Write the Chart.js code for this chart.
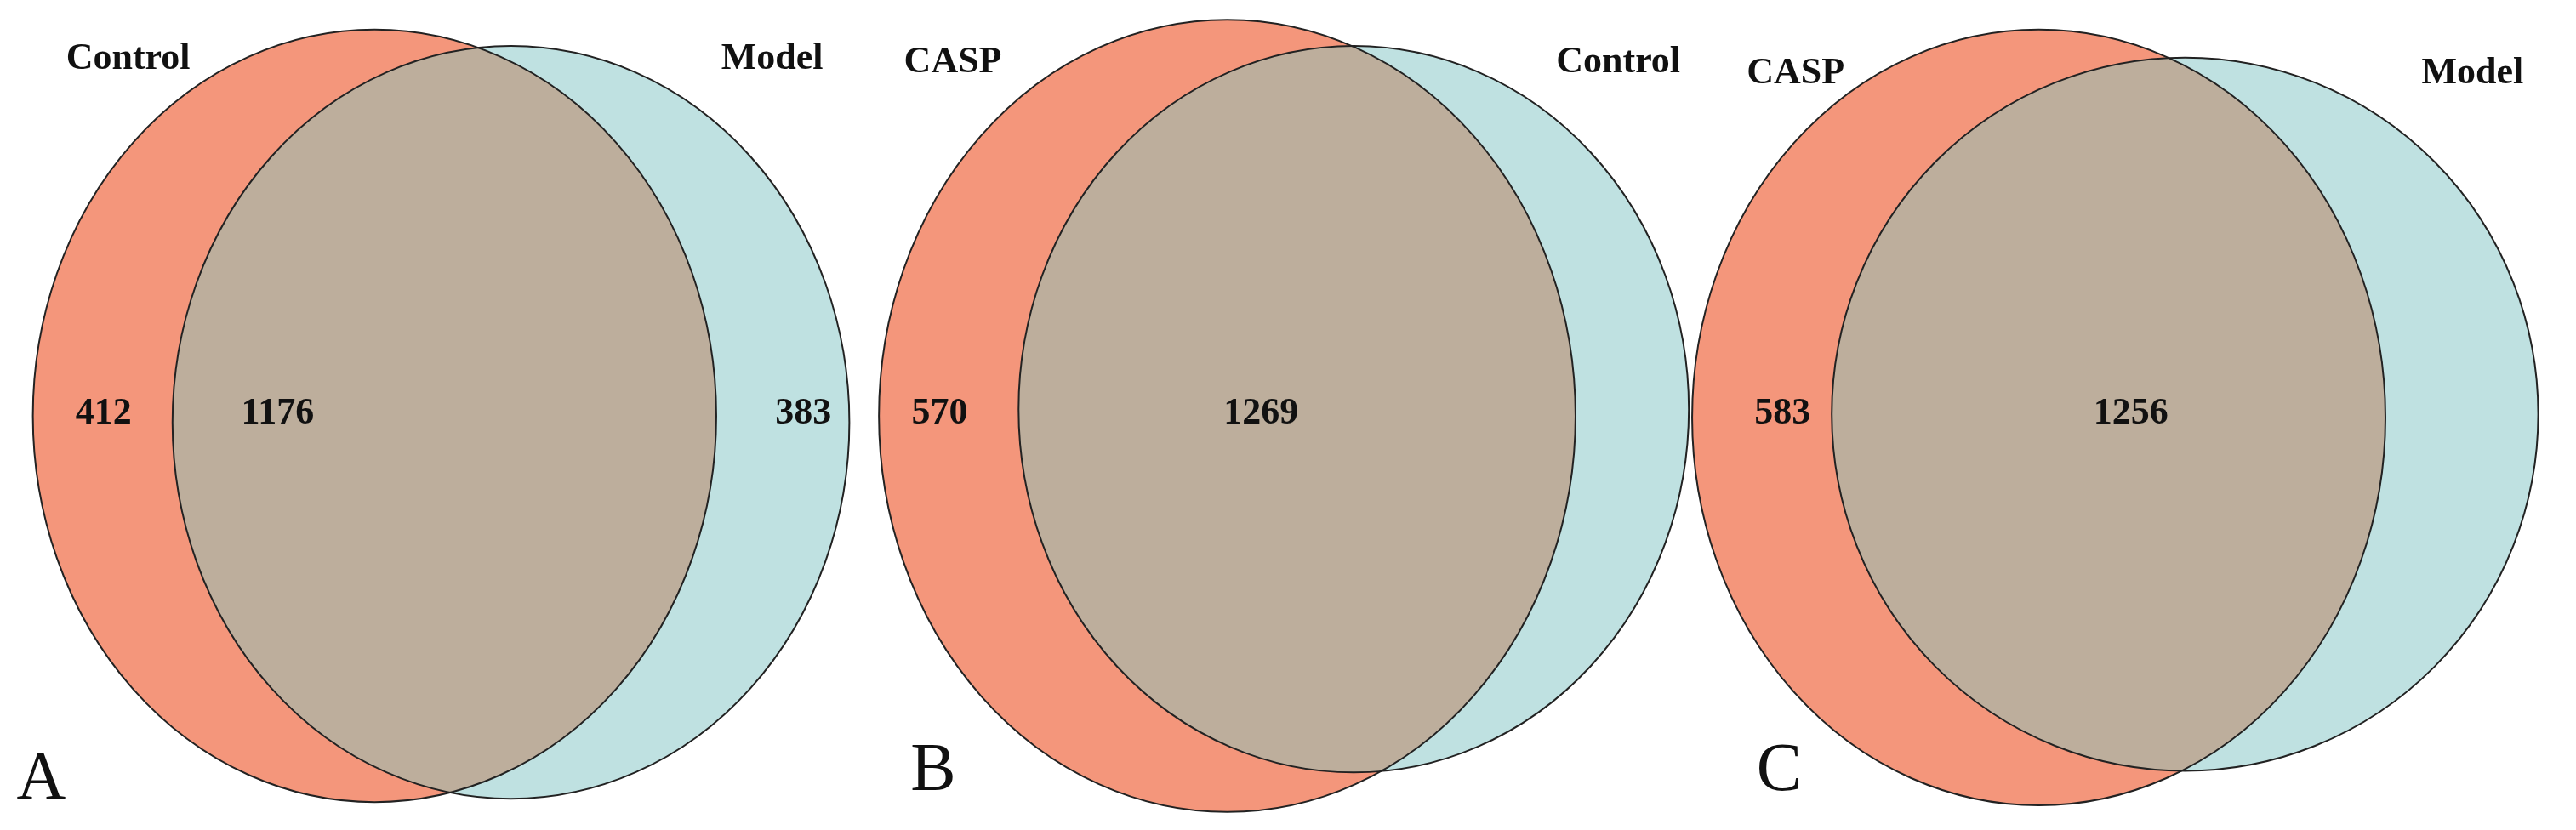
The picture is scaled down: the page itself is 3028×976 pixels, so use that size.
<!DOCTYPE html>
<html>
<head>
<meta charset="utf-8">
<script src="https://cdn.jsdelivr.net/npm/chart.js@4"></script>
<style>
  html, body { margin: 0; padding: 0; background: #fff; }
  #wrap { width: 3028px; height: 976px; }
</style>
</head>
<body>
<div id="wrap"><canvas id="venn"></canvas></div>
<script>
// panel data (units: reference picture, 1568 x 505)
var panels = ['A', 'B', 'C'];
var leftNames = ['Control', 'CASP', 'CASP'];
var rightNames = ['Model', 'Control', 'Model'];
var leftOnly = [412, 570, 583];
var shared = [1176, 1269, 1256];
var rightOnly = [383, 319, 303];

// ellipse centre and radii per panel: [cx, cy, rx, ry]
var leftSets = [[228, 253, 208, 235], [747, 253, 212, 241], [1241, 254, 211, 236]];
var rightSets = [[311, 257, 206, 229], [824, 249, 204, 221], [1330, 252, 215, 217]];
var nameSpots = [[[78, 36], [470, 36]], [[580, 38], [985, 38]], [[1093, 45], [1505, 45]]];
var countSpots = [[63, 135, 252], [572, 823, 252], [1085, 1369, 252]];
var letterSpots = [[25, 475], [568, 470], [1083, 470]];

var RED = '#f4967b', TEAL = '#bfe1e1', MIX = '#bdae9c';

function ellipsePath(ctx, xs, ys, e) {
    var cx = xs.getPixelForValue(e[0]), cy = ys.getPixelForValue(e[1]);
    var rx = Math.abs(xs.getPixelForValue(e[0] + e[2]) - cx);
    var ry = Math.abs(ys.getPixelForValue(e[1] + e[3]) - cy);
    ctx.beginPath();
    ctx.ellipse(cx, cy, rx, ry, 0, 0, Math.PI * 2);
}

var vennPlugin = {
    id: 'venn',
    afterDatasetsDraw: function(chart) {
        var ctx = chart.ctx, xs = chart.scales.x, ys = chart.scales.y;
        var P = function(v) { return xs.getPixelForValue(v); };
        var Q = function(v) { return ys.getPixelForValue(v); };
        for (let i = 0; i < panels.length; i++) {
            var L = leftSets[i], R = rightSets[i];
            ctx.save();
            ellipsePath(ctx, xs, ys, L); ctx.fillStyle = RED; ctx.fill();
            ellipsePath(ctx, xs, ys, R); ctx.fillStyle = TEAL; ctx.fill();
            ctx.save();
            ellipsePath(ctx, xs, ys, L); ctx.clip();
            ellipsePath(ctx, xs, ys, R); ctx.fillStyle = MIX; ctx.fill();
            ctx.restore();
            ctx.strokeStyle = '#222'; ctx.lineWidth = 2;
            ellipsePath(ctx, xs, ys, L); ctx.stroke();
            ellipsePath(ctx, xs, ys, R); ctx.stroke();

            ctx.fillStyle = '#111';
            ctx.textAlign = 'center'; ctx.textBaseline = 'middle';
            ctx.font = 'bold 44px "Liberation Serif", "DejaVu Serif", serif';
            ctx.fillText(leftNames[i], P(nameSpots[i][0][0]), Q(nameSpots[i][0][1]));
            ctx.fillText(rightNames[i], P(nameSpots[i][1][0]), Q(nameSpots[i][1][1]));
            ctx.font = 'bold 44px "Liberation Serif", "DejaVu Serif", serif';
            ctx.fillText(leftOnly[i], P(countSpots[i][0]), Q(countSpots[i][2]));
            ctx.fillText(shared[i], P((countSpots[i][0] + countSpots[i][1]) / 2 + 70), Q(countSpots[i][2]));
            ctx.fillText(rightOnly[i], P(countSpots[i][1] + 354), Q(countSpots[i][2]));
            ctx.font = '80px "Liberation Serif", "DejaVu Serif", serif';
            ctx.fillText(panels[i], P(letterSpots[i][0]), Q(letterSpots[i][1]));
            ctx.restore();
        }
    }
};

var centres = [];
for (let i = 0; i < panels.length; i++) {
    centres.push({x: leftSets[i][0], y: leftSets[i][1]});
    centres.push({x: rightSets[i][0], y: rightSets[i][1]});
}

new Chart(document.getElementById('venn').getContext('2d'), {
    type: 'scatter',
    data: { datasets: [{ data: centres, pointRadius: 0 }] },
    options: {
        responsive: true,
        maintainAspectRatio: false,
        animation: false,
        layout: { padding: 0 },
        plugins: { legend: { display: false }, tooltip: { enabled: false } },
        scales: {
            x: { type: 'linear', min: 0, max: 1568, display: false },
            y: { type: 'linear', min: 0, max: 505, reverse: true, display: false }
        }
    },
    plugins: [vennPlugin]
});
</script>
</body>
</html>
